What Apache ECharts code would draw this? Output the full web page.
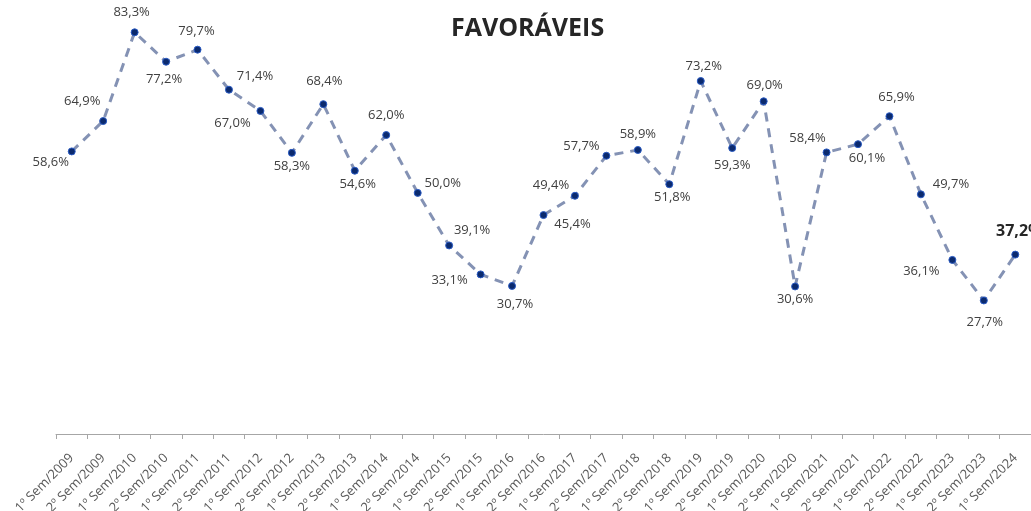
<!DOCTYPE html>
<html>
<head>
<meta charset="utf-8">
<script src="https://cdn.jsdelivr.net/npm/echarts@6/dist/echarts.min.js"></script>
<style>
    html, body { margin: 0; padding: 0; background: #fff; }
    #chart { width: 1031px; height: 511px; }
</style>
</head>
<body>
<div id="chart"></div>
<script>
// semestres
var semestres = [
    '1º Sem/2009', '2º Sem/2009', '1º Sem/2010', '2º Sem/2010', '1º Sem/2011', '2º Sem/2011',
    '1º Sem/2012', '2º Sem/2012', '1º Sem/2013', '2º Sem/2013', '1º Sem/2014', '2º Sem/2014',
    '1º Sem/2015', '2º Sem/2015', '1º Sem/2016', '2º Sem/2016', '1º Sem/2017', '2º Sem/2017',
    '1º Sem/2018', '2º Sem/2018', '1º Sem/2019', '2º Sem/2019', '1º Sem/2020', '2º Sem/2020',
    '1º Sem/2021', '2º Sem/2021', '1º Sem/2022', '2º Sem/2022', '1º Sem/2023', '2º Sem/2023',
    '1º Sem/2024'
];
// % favoráveis
var favoraveis = [
    58.6, 64.9, 83.3, 77.2, 79.7, 71.4, 67.0, 58.3, 68.4, 54.6, 62.0, 50.0,
    39.1, 33.1, 30.7, 45.4, 49.4, 57.7, 58.9, 51.8, 73.2, 59.3, 69.0, 30.6,
    58.4, 60.1, 65.9, 49.7, 36.1, 27.7, 37.2
];

// deslocamento de cada rótulo em relação ao ponto
var rotuloDesloc = [
    [-21, 11], [-21, -20], [-3, -20], [-2, 18], [-1, -18], [26, -13], [-28, 12], [0, 13],
    [1, -23], [3, 14], [0, -20], [25, -10], [23, -15], [-31, 6], [3, 18], [29, 9],
    [-24, -10], [-25, -9], [0, -16], [3, 13], [3, -15], [0, 17], [1, -16], [0, 13],
    [-19, -14], [9, 14], [7, -19], [30, -10], [-31, 11], [1, 22], [4, -23]
];

var fonte = '"Open Sans", "Noto Sans", sans-serif';

var pontos = favoraveis.map(function(v, i) {
    var ultimo = i === favoraveis.length - 1;
    return {
        value: v,
        label: {
            offset: rotuloDesloc[i],
            fontSize: ultimo ? 16 : 13,
            fontWeight: ultimo ? 'bold' : 'normal',
            color: ultimo ? '#262626' : '#404040'
        }
    };
});

var myChart = echarts.init(document.getElementById('chart'));
var option = {
    backgroundColor: '#fff',
    animation: false,
    title: {
        text: 'FAVORÁVEIS',
        left: 446,
        top: 11,
        textStyle: {
            fontFamily: fonte,
            fontSize: 25,
            fontWeight: 'bold',
            color: '#262626'
        }
    },
    grid: {
        left: 56,
        right: 0,
        top: 0,
        bottom: 77,
        containLabel: false,
        outerBoundsMode: 'none'
    },
    xAxis: {
        type: 'category',
        data: semestres,
        boundaryGap: true,
        axisLine: { lineStyle: { color: '#a6a6a6', width: 1 } },
        axisTick: { show: true, length: 5, lineStyle: { color: '#a6a6a6' } },
        axisLabel: {
            rotate: 45,
            interval: 0,
            margin: 22,
            fontFamily: fonte,
            fontSize: 13,
            color: '#595959'
        }
    },
    yAxis: {
        type: 'value',
        min: 0,
        max: 90,
        show: false
    },
    series: [{
        type: 'line',
        data: pontos,
        symbol: 'circle',
        symbolSize: 7,
        itemStyle: {
            color: '#0b2a6e',
            borderColor: '#2a5bc4',
            borderWidth: 1
        },
        lineStyle: {
            color: '#8492b4',
            width: 3,
            type: [9, 7]
        },
        label: {
            show: true,
            position: 'inside',
            align: 'center',
            verticalAlign: 'middle',
            fontFamily: fonte,
            formatter: function(p) {
                return p.value.toFixed(1).replace('.', ',') + '%';
            }
        }
    }]
};
myChart.setOption(option);
</script>
</body>
</html>
